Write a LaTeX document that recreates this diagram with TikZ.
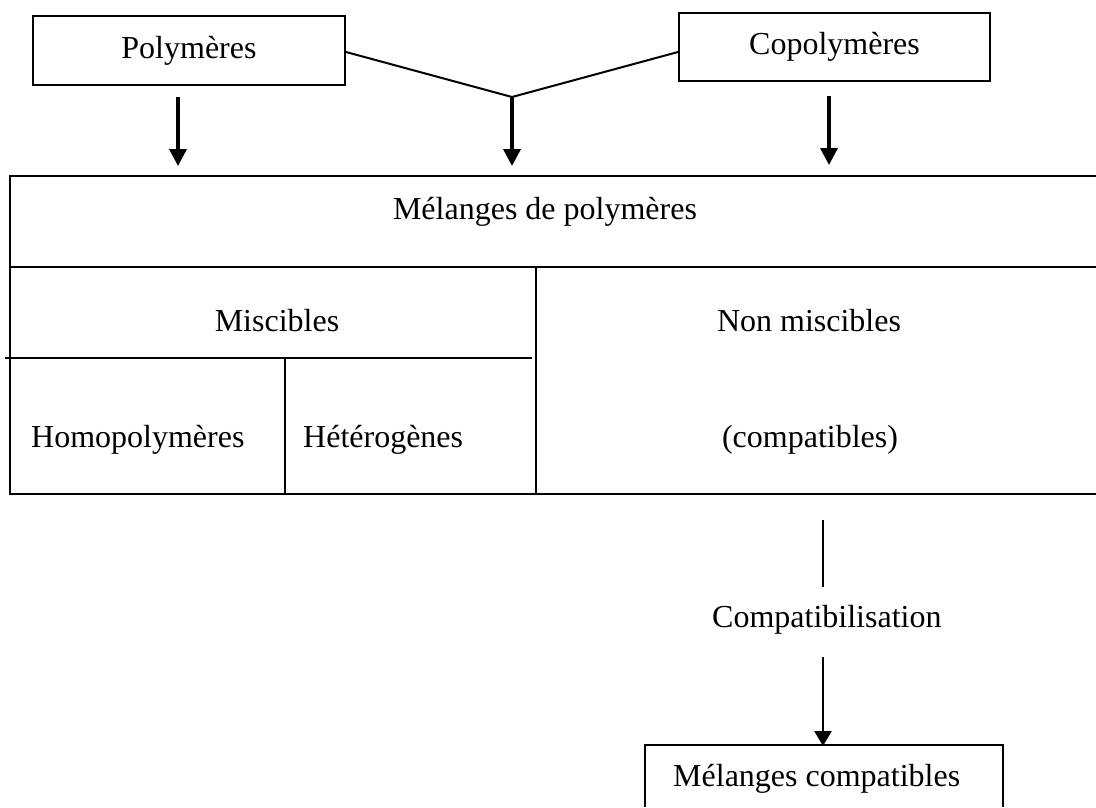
\documentclass[tikz,border=0pt]{standalone}
\usepackage{fontspec}
\setmainfont{Liberation Serif}
\usetikzlibrary{arrows.meta}
\begin{document}
\begin{tikzpicture}[x=1pt,y=-1pt,
  every node/.style={font=\fontsize{32}{38}\selectfont, inner sep=0pt},
  boxnode/.style={draw, line width=2pt, inner sep=0pt},
  thinline/.style={line width=2pt},
  tableline/.style={line width=2.4pt},
  bigarrow/.style={line width=3.5pt, -{Triangle[width=17pt,length=17pt]}},
  smallarrow/.style={line width=2.5pt, -{Triangle[width=17pt,length=15pt]}}]
\useasboundingbox (0,0) rectangle (1096,807);
% top boxes
\node[boxnode, minimum width=312pt, minimum height=69pt] (poly) at (189,50.5) {Polymères};
\node[boxnode, minimum width=311pt, minimum height=68pt] (copo) at (834.5,47) {Copolymères};
\coordinate (junc) at (512,97);
\draw[thinline] ([yshift=-1.5pt]poly.east) -- (junc) -- ([yshift=-5pt]copo.west);
% arrows into the table
\coordinate (a1s) at (178,97);  \coordinate (a1e) at (178,166);
\coordinate (a2e) at (512,166);
\coordinate (a3s) at (829,96);  \coordinate (a3e) at (829,165);
\draw[bigarrow] (a1s) -- (a1e);
\draw[bigarrow] (junc) -- (a2e);
\draw[bigarrow] (a3s) -- (a3e);
% table
\coordinate (tTL) at (10,176);
\coordinate (tTR) at (1096,176);
\coordinate (tML) at (10,267);
\coordinate (tMR) at (1096,267);
\coordinate (tBL) at (10,494);
\coordinate (tBR) at (1096,494);
\draw[tableline] (tTR) -- (tTL) -- (tBL) -- (tBR);
\draw[tableline] (tML) -- (tMR);
\draw[thinline] (536,267) -- (536,494);
\draw[thinline] (5,358) -- (532,358);
\draw[thinline] (285,358) -- (285,494);
\node[anchor=base] (melpol) at (545,219) {Mélanges de polymères};
\node[anchor=base] (misc) at (277,331) {Miscibles};
\node[anchor=base] (nonmisc) at (809,331) {Non miscibles};
\node[anchor=base] (compat) at (810,447) {(compatibles)};
\node[anchor=base west] (homo) at (31,447) {Homopolymères};
\node[anchor=base west] (hete) at (303,447) {Hétérogènes};
% compatibilisation
\node[anchor=base west] (compa) at (712,627) {Compatibilisation};
\coordinate (c1s) at (823,520); \coordinate (c1e) at (823,587);
\coordinate (c2s) at (823,657); \coordinate (c2e) at (823,746);
\draw[thinline, line width=2.5pt] (c1s) -- (c1e);
\draw[smallarrow] (c2s) -- (c2e);
% bottom box (cut by the page edge)
\node[anchor=base west] (melc) at (673,786) {Mélanges compatibles};
\draw[thinline] (645,807) -- (645,745) -- (1003,745) -- (1003,807);
\end{tikzpicture}
\end{document}
